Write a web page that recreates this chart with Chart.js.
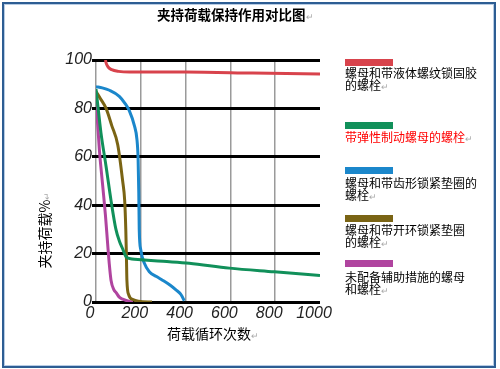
<!DOCTYPE html>
<html>
<head>
<meta charset="utf-8">
<script src="https://cdn.jsdelivr.net/npm/chart.js@4"></script>
<style>
body { margin: 0; background: #fff; }
#wrap { position: relative; width: 500px; height: 369px; overflow: hidden; font-family: "Noto Sans CJK SC", sans-serif; color: #000; }
#frame { position: absolute; left: 2px; top: 2px; width: 494px; height: 366px; box-sizing: border-box; border: 2px solid #2d5d93; box-shadow: inset 0 0 0 1px #b7cce4; }
canvas { position: absolute; left: 0; top: 0; }
.ret { color: #aaa; font-size: 9px; font-weight: normal; }
#title { position: absolute; left: 157px; top: 5px; font-size: 13.5px; font-weight: bold; white-space: nowrap; line-height: 18px; }
#ytitle { position: absolute; left: 45px; top: 230px; transform: translate(-50%, -50%) rotate(-90deg); font-size: 14px; white-space: nowrap; line-height: 16px; }
#xtitle { position: absolute; left: 167px; top: 324px; font-size: 14px; white-space: nowrap; line-height: 18px; }
.swatch { position: absolute; left: 345px; width: 48px; height: 7px; }
.item { position: absolute; left: 345px; font-size: 12px; line-height: 12px; white-space: nowrap; }
</style>
</head>
<body>
<div id="wrap">
  <canvas id="chart" width="500" height="369"></canvas>
  <div id="frame"></div>
  <div id="title">夹持荷载保持作用对比图<span class="ret">↵</span></div>
  <div id="ytitle">夹持荷载%<span class="ret">↵</span></div>
  <div id="xtitle">荷载循环次数<span class="ret">↵</span></div>
  <div id="legend"></div>
</div>
<script>
// axis ticks
const xTicks = [0, 200, 400, 600, 800, 1000];
const yTicks = [0, 20, 40, 60, 80, 100];

// legend text (lines as in the picture)
const seriesNames = [
    ['螺母和带液体螺纹锁固胶', '的螺栓'],
    ['带弹性制动螺母的螺栓'],
    ['螺母和带齿形锁紧垫圈的', '螺栓'],
    ['螺母和带开环锁紧垫圈', '的螺栓'],
    ['未配备辅助措施的螺母', '和螺栓']
];
const seriesColors = ['#d8434c', '#11905a', '#1b87cb', '#7a6414', '#b0449f'];

// load cycles -> retained clamp load %
const redX = [42, 46, 55, 70, 100, 150, 400, 700, 1000];
const redY = [100, 98.5, 97, 96, 95.3, 95, 95, 94.6, 94.2];

const greenX = [0, 12, 22, 45, 67, 89, 105, 119, 134, 160, 200, 300, 416, 595, 796, 1000];
const greenY = [88, 78, 70, 56, 42, 30, 25, 22, 18.7, 17.8, 17.5, 16.8, 16, 14, 12.5, 11];

const blueX = [0, 28, 60, 104, 130, 149, 171, 183, 188, 191, 193, 200, 216, 238, 270, 297, 330, 357, 380, 394];
const blueY = [89, 88.5, 87.5, 85, 82, 79, 73, 67, 59, 45, 30, 21.5, 16, 12.5, 10.5, 9, 7, 5, 3, 0.5];

const oliveX = [0, 20, 45, 70, 97, 119, 128, 133, 136, 138, 146, 165, 190, 250];
const oliveY = [87, 84, 80, 73, 65, 50, 42, 30, 18, 9, 3, 1, 0.3, 0];

const magentaX = [0, 15, 30, 42, 52, 59, 67, 80, 89, 104, 119, 150, 165];
const magentaY = [84, 63, 48, 36, 24, 16, 9, 5, 4, 2, 1.2, 0.2, 0];

const seriesX = [redX, greenX, blueX, oliveX, magentaX];
const seriesY = [redY, greenY, blueY, oliveY, magentaY];

// legend placement
const swatchTops = [59, 122, 167, 215, 260];
const textTops = [67, 131, 177, 224, 271];
const legend = document.getElementById('legend');
seriesNames.forEach((lines, i) => {
    const sw = document.createElement('div');
    sw.className = 'swatch';
    sw.style.top = swatchTops[i] + 'px';
    sw.style.background = seriesColors[i];
    legend.appendChild(sw);
    const t = document.createElement('div');
    t.className = 'item';
    t.style.top = textTops[i] + 'px';
    if (i === 1) t.style.color = '#ff0000';
    t.innerHTML = lines.join('<br>') + '<span class="ret">↵</span>';
    legend.appendChild(t);
});

const tickFont = { family: 'Liberation Sans', size: 16, style: 'italic' };

new Chart(document.getElementById('chart').getContext('2d'), {
    type: 'line',
    data: {
        datasets: seriesX.map((xs, i) => ({
            label: seriesNames[i].join(''),
            data: xs.map((x, j) => ({ x: x, y: seriesY[i][j] })),
            borderColor: seriesColors[i],
            borderWidth: 3,
            pointRadius: 0,
            fill: false,
            cubicInterpolationMode: 'monotone'
        }))
    },
    options: {
        responsive: false,
        animation: false,
        layout: { padding: { left: 46, top: 60, right: 180, bottom: 37 } },
        plugins: { legend: { display: false }, tooltip: { enabled: false } },
        scales: {
            x: {
                type: 'linear',
                min: 0,
                max: 1000,
                afterBuildTicks: s => { s.ticks = xTicks.map(v => ({ value: v })); },
                afterFit: s => { s.height = 30; },
                ticks: {
                    font: tickFont, color: '#222', padding: 2, maxRotation: 0, autoSkip: false, labelOffset: -6,
                    callback: v => String(v)
                },
                grid: {
                    color: ctx => (ctx.tick && ctx.tick.value === 1000) ? 'rgba(0,0,0,0)' : '#9a9a9a',
                    lineWidth: 1.5,
                    drawTicks: false
                },
                border: { display: false }
            },
            y: {
                min: 0,
                max: 100,
                afterBuildTicks: s => { s.ticks = yTicks.map(v => ({ value: v })); },
                afterFit: s => { s.width = 50; },
                ticks: { font: tickFont, color: '#222', padding: 0, callback: v => String(v) },
                grid: { color: '#000', lineWidth: 3, tickLength: 4 },
                border: { display: false }
            }
        }
    }
});
</script>
</body>
</html>
